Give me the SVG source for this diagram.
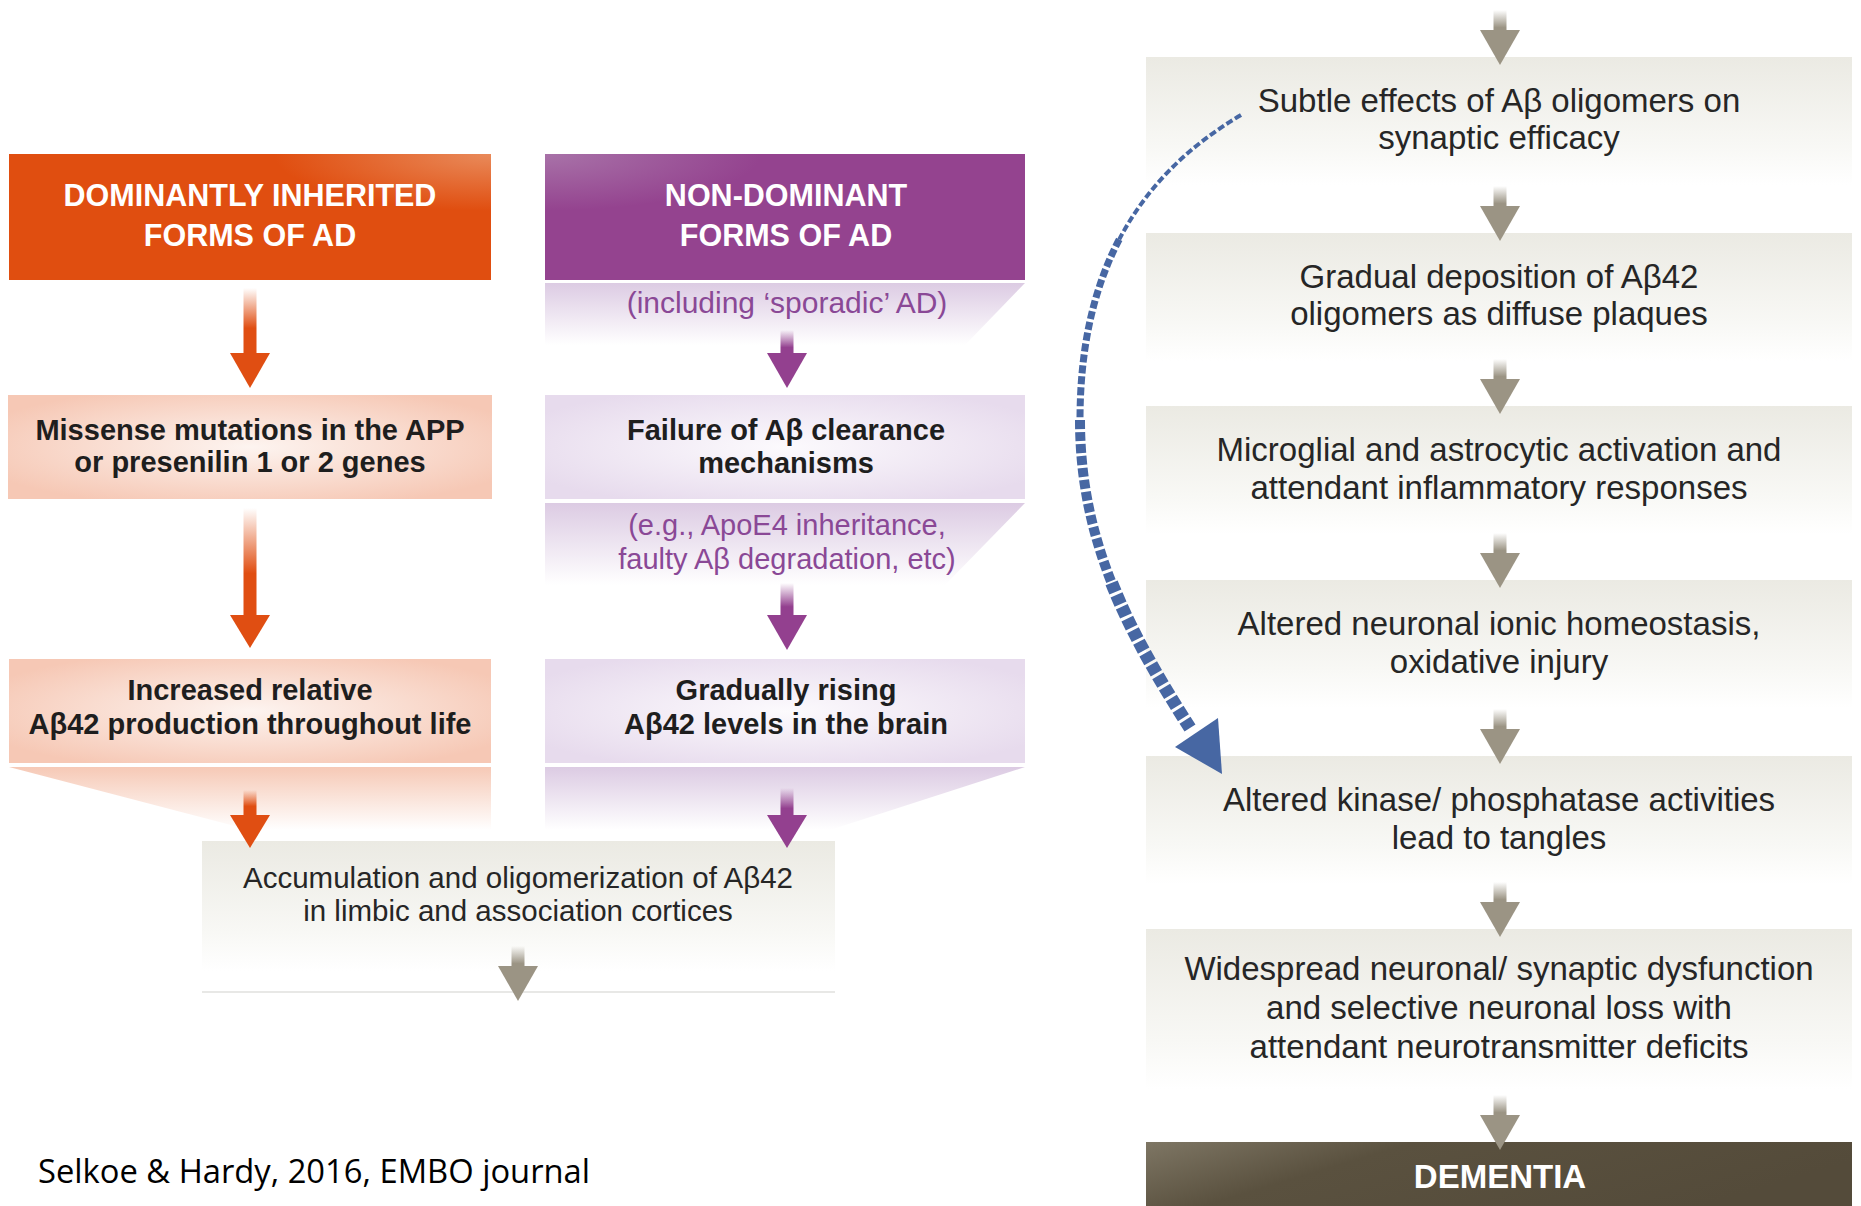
<svg xmlns="http://www.w3.org/2000/svg" xmlns:xlink="http://www.w3.org/1999/xlink" width="1861" height="1206" viewBox="0 0 1861 1206">
<style>
  text { font-family: "Liberation Sans", Arial, sans-serif; text-anchor: middle; }
  .hdr { font-weight: bold; font-size: 30.5px; fill: #ffffff; }
  .bold { font-weight: bold; font-size: 29px; fill: #1e1e1e; }
  .sub { font-size: 29px; fill: #8a4896; }
  .reg { font-size: 29.5px; fill: #262626; }
  .rt { font-size: 33px; fill: #262626; }
  .dem { font-weight: bold; font-size: 33px; fill: #ffffff; }
  .note { font-family: "Open Sans", "Noto Sans", sans-serif; font-size: 33px; fill: #000000; text-anchor: start; }
  .grayhead { fill: #9b9484; }
  .orhead { fill: #e04e12; }
  .puhead { fill: #93408f; }
  .blue { fill: none; stroke: #4767a3; }
</style>
<defs>
  <radialGradient id="gOrHdr" cx="100%" cy="0%" r="45%">
    <stop offset="0" stop-color="#e98a5a"/>
    <stop offset="1" stop-color="#e04e10"/>
  </radialGradient>
  <radialGradient id="gPuHdr" cx="0%" cy="0%" r="45%">
    <stop offset="0" stop-color="#a872a8"/>
    <stop offset="1" stop-color="#94438f"/>
  </radialGradient>
  <radialGradient id="gOrBox" cx="50%" cy="50%" r="60%">
    <stop offset="0" stop-color="#fdf4f0"/>
    <stop offset="1" stop-color="#f6c8b5"/>
  </radialGradient>
  <radialGradient id="gPuBox" cx="50%" cy="50%" r="60%">
    <stop offset="0" stop-color="#fcfafd"/>
    <stop offset="1" stop-color="#e7dbed"/>
  </radialGradient>
  <linearGradient id="gOrFade" x1="0" y1="0" x2="0" y2="1">
    <stop offset="0" stop-color="#f6c9b6"/>
    <stop offset="1" stop-color="#ffffff"/>
  </linearGradient>
  <linearGradient id="gPuFade" x1="0" y1="0" x2="0" y2="1">
    <stop offset="0" stop-color="#dccbe3"/>
    <stop offset="1" stop-color="#ffffff"/>
  </linearGradient>
  <linearGradient id="gGrayBox" x1="0" y1="0" x2="0" y2="1">
    <stop offset="0" stop-color="#ebeae3"/>
    <stop offset="0.7" stop-color="#f8f8f5"/>
    <stop offset="1" stop-color="#ffffff"/>
  </linearGradient>
  <linearGradient id="gDem" x1="0" y1="0" x2="1" y2="0.3">
    <stop offset="0" stop-color="#7e7664"/>
    <stop offset="0.35" stop-color="#5a513f"/>
    <stop offset="1" stop-color="#544b3a"/>
  </linearGradient>
  <linearGradient id="gOrShaft" x1="0" y1="0" x2="0" y2="1">
    <stop offset="0" stop-color="#e04e12" stop-opacity="0"/>
    <stop offset="0.6" stop-color="#e04e12"/>
  </linearGradient>
  <linearGradient id="gPuShaft" x1="0" y1="0" x2="0" y2="1">
    <stop offset="0" stop-color="#93408f" stop-opacity="0"/>
    <stop offset="0.7" stop-color="#93408f"/>
  </linearGradient>
  <linearGradient id="gGrShaft" x1="0" y1="0" x2="0" y2="1">
    <stop offset="0" stop-color="#9b9484" stop-opacity="0"/>
    <stop offset="0.8" stop-color="#9b9484"/>
  </linearGradient>
  <g id="garrow">
    <rect x="-6.5" y="0" width="13" height="22" fill="url(#gGrShaft)"/>
    <polygon class="grayhead" points="-20,20 20,20 0,55"/>
  </g>
</defs>

<rect x="0" y="0" width="1861" height="1206" fill="#ffffff"/>

<!-- Left: dominant column -->
<g id="node-dominant">
  <rect x="9" y="154" width="482" height="126" fill="url(#gOrHdr)"/>
  <text class="hdr" x="250" y="206">DOMINANTLY INHERITED</text>
  <text class="hdr" x="250" y="246">FORMS OF AD</text>
</g>
<g id="node-missense">
  <rect x="8" y="395" width="484" height="104" fill="url(#gOrBox)"/>
  <text class="bold" x="250" y="440">Missense mutations in the APP</text>
  <text class="bold" x="250" y="472">or presenilin 1 or 2 genes</text>
</g>
<g id="node-increased">
  <rect x="9" y="659" width="482" height="104" fill="url(#gOrBox)"/>
  <polygon points="9,767 491,767 491,830 250,830" fill="url(#gOrFade)"/>
  <text class="bold" x="250" y="700">Increased relative</text>
  <text class="bold" x="250" y="734">Aβ42 production throughout life</text>
</g>

<!-- Left: non-dominant column -->
<g id="node-nondominant">
  <rect x="545" y="154" width="480" height="126" fill="url(#gPuHdr)"/>
  <text class="hdr" x="786" y="206">NON-DOMINANT</text>
  <text class="hdr" x="786" y="246">FORMS OF AD</text>
  <polygon points="545,283 1025,283 965,345 545,345" fill="url(#gPuFade)"/>
  <text class="sub" x="787" y="313" style="font-size:30px">(including ‘sporadic’ AD)</text>
</g>
<g id="node-failure">
  <rect x="545" y="395" width="480" height="104" fill="url(#gPuBox)"/>
  <text class="bold" x="786" y="440">Failure of Aβ clearance</text>
  <text class="bold" x="786" y="473">mechanisms</text>
  <polygon points="545,503 1025,503 945,585 545,585" fill="url(#gPuFade)"/>
  <text class="sub" x="787" y="535">(e.g., ApoE4 inheritance,</text>
  <text class="sub" x="787" y="569">faulty Aβ degradation, etc)</text>
</g>
<g id="node-gradually">
  <rect x="545" y="659" width="480" height="104" fill="url(#gPuBox)"/>
  <polygon points="545,767 1025,767 830,830 545,830" fill="url(#gPuFade)"/>
  <text class="bold" x="786" y="700">Gradually rising</text>
  <text class="bold" x="786" y="734">Aβ42 levels in the brain</text>
</g>
<g id="node-accumulation">
  <rect x="202" y="841" width="633" height="130" fill="url(#gGrayBox)"/>
  <text class="reg" x="518" y="888">Accumulation and oligomerization of Aβ42</text>
  <text class="reg" x="518" y="921">in limbic and association cortices</text>
  <rect x="202" y="991" width="633" height="2" fill="#e8e8e6"/>
</g>

<!-- Right column -->
<g id="node-subtle">
  <rect x="1146" y="57" width="706" height="128" fill="url(#gGrayBox)"/>
  <text class="rt" x="1499" y="112">Subtle effects of Aβ oligomers on</text>
  <text class="rt" x="1499" y="149">synaptic efficacy</text>
</g>
<g id="node-deposition">
  <rect x="1146" y="233" width="706" height="128" fill="url(#gGrayBox)"/>
  <text class="rt" x="1499" y="288">Gradual deposition of Aβ42</text>
  <text class="rt" x="1499" y="325">oligomers as diffuse plaques</text>
</g>
<g id="node-microglial">
  <rect x="1146" y="406" width="706" height="128" fill="url(#gGrayBox)"/>
  <text class="rt" x="1499" y="461">Microglial and astrocytic activation and</text>
  <text class="rt" x="1499" y="499">attendant inflammatory responses</text>
</g>
<g id="node-ionic">
  <rect x="1146" y="580" width="706" height="128" fill="url(#gGrayBox)"/>
  <text class="rt" x="1499" y="635">Altered neuronal ionic homeostasis,</text>
  <text class="rt" x="1499" y="673">oxidative injury</text>
</g>
<g id="node-kinase">
  <rect x="1146" y="756" width="706" height="128" fill="url(#gGrayBox)"/>
  <text class="rt" x="1499" y="811">Altered kinase/ phosphatase activities</text>
  <text class="rt" x="1499" y="849">lead to tangles</text>
</g>
<g id="node-widespread">
  <rect x="1146" y="929" width="706" height="160" fill="url(#gGrayBox)"/>
  <text class="rt" x="1499" y="980">Widespread neuronal/ synaptic dysfunction</text>
  <text class="rt" x="1499" y="1019">and selective neuronal loss with</text>
  <text class="rt" x="1499" y="1058">attendant neurotransmitter deficits</text>
</g>
<g id="node-dementia">
  <rect x="1146" y="1142" width="706" height="64" fill="url(#gDem)"/>
  <text class="dem" x="1500" y="1188">DEMENTIA</text>
</g>

<g id="caption">
  <text class="note" x="38" y="1183" textLength="552" lengthAdjust="spacingAndGlyphs">Selkoe &amp; Hardy, 2016, EMBO journal</text>
</g>

<!-- Connectors -->
<g id="connectors">
  <!-- orange -->
  <rect x="243.5" y="288" width="13" height="67" fill="url(#gOrShaft)"/>
  <polygon class="orhead" points="230,353 270,353 250,388"/>
  <rect x="243.5" y="508" width="13" height="109" fill="url(#gOrShaft)"/>
  <polygon class="orhead" points="230,615 270,615 250,648"/>
  <rect x="243.5" y="790" width="13" height="27" fill="url(#gOrShaft)"/>
  <polygon class="orhead" points="230,815 270,815 250,848"/>
  <!-- purple -->
  <rect x="780.5" y="330" width="13" height="25" fill="url(#gPuShaft)"/>
  <polygon class="puhead" points="767,353 807,353 787,388"/>
  <rect x="780.5" y="583" width="13" height="34" fill="url(#gPuShaft)"/>
  <polygon class="puhead" points="767,615 807,615 787,650"/>
  <rect x="780.5" y="788" width="13" height="29" fill="url(#gPuShaft)"/>
  <polygon class="puhead" points="767,815 807,815 787,848"/>
  <!-- gray -->
  <use xlink:href="#garrow" x="518" y="946"/>
  <use xlink:href="#garrow" x="1500" y="10"/>
  <use xlink:href="#garrow" x="1500" y="186"/>
  <use xlink:href="#garrow" x="1500" y="359"/>
  <use xlink:href="#garrow" x="1500" y="533"/>
  <use xlink:href="#garrow" x="1500" y="709"/>
  <use xlink:href="#garrow" x="1500" y="882"/>
  <use xlink:href="#garrow" x="1500" y="1095"/>
  <!-- blue dashed curve -->
  <path class="blue" stroke-width="4" stroke-dasharray="7 3" d="M1241,115 C1186,147.5 1145.75,188.75 1119.25,239.375"/>
  <path class="blue" stroke-width="7" stroke-dasharray="8 3" d="M1119.25,239.375 C1092.75,290 1080,350 1080,420"/>
  <path class="blue" stroke-width="10" stroke-dasharray="9 3" d="M1080,420 C1080,480 1091.75,532.75 1111.625,582.875"/>
  <path class="blue" stroke-width="13" stroke-dasharray="10 3" d="M1111.625,582.875 C1131.5,633 1159.5,680.5 1190,728"/>
  <polygon points="1222,774 1175,747 1218,718" fill="#4767a3"/>
</g>
</svg>
